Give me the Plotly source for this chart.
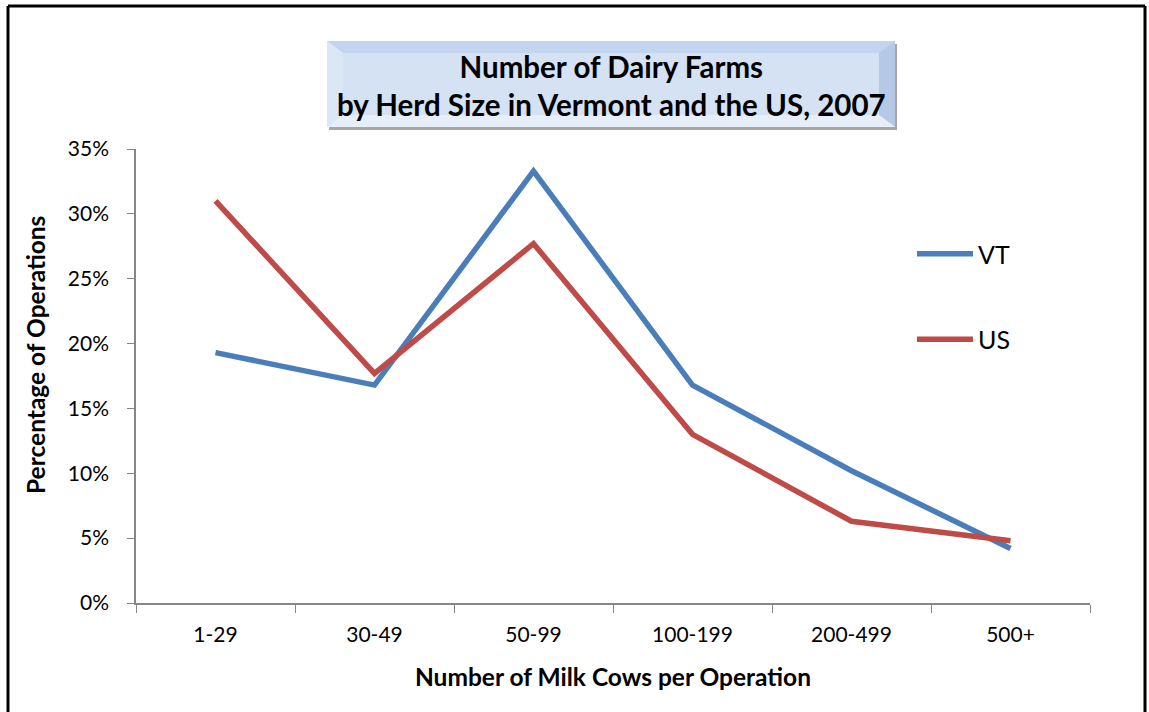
import plotly.graph_objects as go

categories = ["1-29", "30-49", "50-99", "100-199", "200-499", "500+"]
vt_values = [0.193, 0.168, 0.333, 0.168, 0.102, 0.042]
us_values = [0.310, 0.177, 0.277, 0.130, 0.063, 0.048]

W, H = 1149, 712
L, R, T, B = 136, 1090, 149, 603  # plot area in px


def px(x):
    return (x - L) / (R - L)


def py(y):
    return (B - y) / (B - T)


fig = go.Figure()
fig.add_trace(go.Scatter(x=categories, y=vt_values, name="VT", mode="lines",
                         legendgroup="vt",
                         line=dict(color="#4A7EBB", width=5.5)))
fig.add_trace(go.Scatter(x=categories, y=us_values, name="US", mode="lines",
                         legendgroup="us",
                         line=dict(color="#BE4B48", width=5.5)))

shapes = []
# outer border (no bottom edge visible)
for x0, y0, x1, y1 in [(8, 6, 8, 720), (8, 6, 1145, 6), (1145, 6, 1145, 720)]:
    shapes.append(dict(type="line", xref="paper", yref="paper",
                       x0=px(x0), y0=py(y0), x1=px(x1), y1=py(y1),
                       line=dict(color="black", width=3)))

# title box: shadow, bevel, face
bx0, by0, bx1, by1 = 327, 41, 895, 127
shapes.append(dict(type="rect", xref="paper", yref="paper",
                   x0=px(bx0 + 2), y0=py(by0 + 3), x1=px(bx1 + 2), y1=py(by1 + 3),
                   fillcolor="#a6a6a6", line=dict(width=0), layer="below"))
shapes.append(dict(type="rect", xref="paper", yref="paper",
                   x0=px(bx0), y0=py(by0), x1=px(bx1), y1=py(by1),
                   fillcolor="#c9daf1", line=dict(width=0), layer="below"))
bh, bv = 16, 12


def poly(pts):
    return "M" + " L".join(f"{px(a):.5f},{py(b):.5f}" for a, b in pts) + " Z"


bevels = [
    ([(bx0, by0), (bx1, by0), (bx1 - bh, by0 + bv), (bx0 + bh, by0 + bv)], "#c3d5ee"),
    ([(bx0, by0), (bx0 + bh, by0 + bv), (bx0 + bh, by1 - bv), (bx0, by1)], "#dce7f6"),
    ([(bx1, by0), (bx1, by1), (bx1 - bh, by1 - bv), (bx1 - bh, by0 + bv)], "#b5c9e6"),
    ([(bx0, by1), (bx0 + bh, by1 - bv), (bx1 - bh, by1 - bv), (bx1, by1)], "#e6eef9"),
]
for pts, col in bevels:
    shapes.append(dict(type="path", xref="paper", yref="paper", path=poly(pts),
                       fillcolor=col, line=dict(width=0), layer="below"))
shapes.append(dict(type="rect", xref="paper", yref="paper",
                   x0=px(bx0 + bh), y0=py(by0 + bv), x1=px(bx1 - bh), y1=py(by1 - bv),
                   fillcolor="#d5e2f4", line=dict(width=0), layer="below"))

fig.update_layout(
    width=W, height=H,
    margin=dict(l=L, r=W - R, t=T, b=H - B),
    paper_bgcolor="white", plot_bgcolor="white",
    font=dict(family="Lato, Carlito, sans-serif", size=21, color="black"),
    shapes=shapes,
    showlegend=True,
    legend=dict(x=px(912), y=py(231), xanchor="left", yanchor="top",
                font=dict(size=25), traceorder="grouped", tracegroupgap=50,
                itemwidth=56, bgcolor="rgba(0,0,0,0)"),
    annotations=[
        dict(text="<b>Number of Dairy Farms<br>by Herd Size in Vermont and the US, 2007</b>",
             xref="paper", yref="paper", x=px(611), y=py(86),
             xanchor="center", yanchor="middle", showarrow=False,
             font=dict(size=29.5, color="black")),
        dict(text="<b>Percentage of Operations</b>", textangle=-90,
             xref="paper", yref="paper", x=px(35), y=py(355),
             xanchor="center", yanchor="middle", showarrow=False,
             font=dict(size=24.5, color="black")),
    ],
)
fig.update_xaxes(
    type="category", range=[-0.5, len(categories) - 0.5],
    showline=True, linecolor="#868686", linewidth=1.5,
    ticks="outside", tickson="boundaries", ticklen=8, tickcolor="#868686",
    ticklabelstandoff=12, tickfont=dict(size=21),
    showgrid=False, zeroline=False,
    title=dict(text="<b>Number of Milk Cows per Operation</b>", font=dict(size=24.5), standoff=24),
)
fig.update_yaxes(
    range=[0, 0.35], dtick=0.05, tickformat=".0%",
    showline=True, linecolor="#868686", linewidth=1.5,
    ticks="outside", ticklen=7, tickcolor="#868686",
    ticklabelstandoff=14, tickfont=dict(size=21),
    showgrid=False, zeroline=False,
)

fig.write_html("out.html", config={"displayModeBar": False},
               post_script="document.body.style.margin='0';")
